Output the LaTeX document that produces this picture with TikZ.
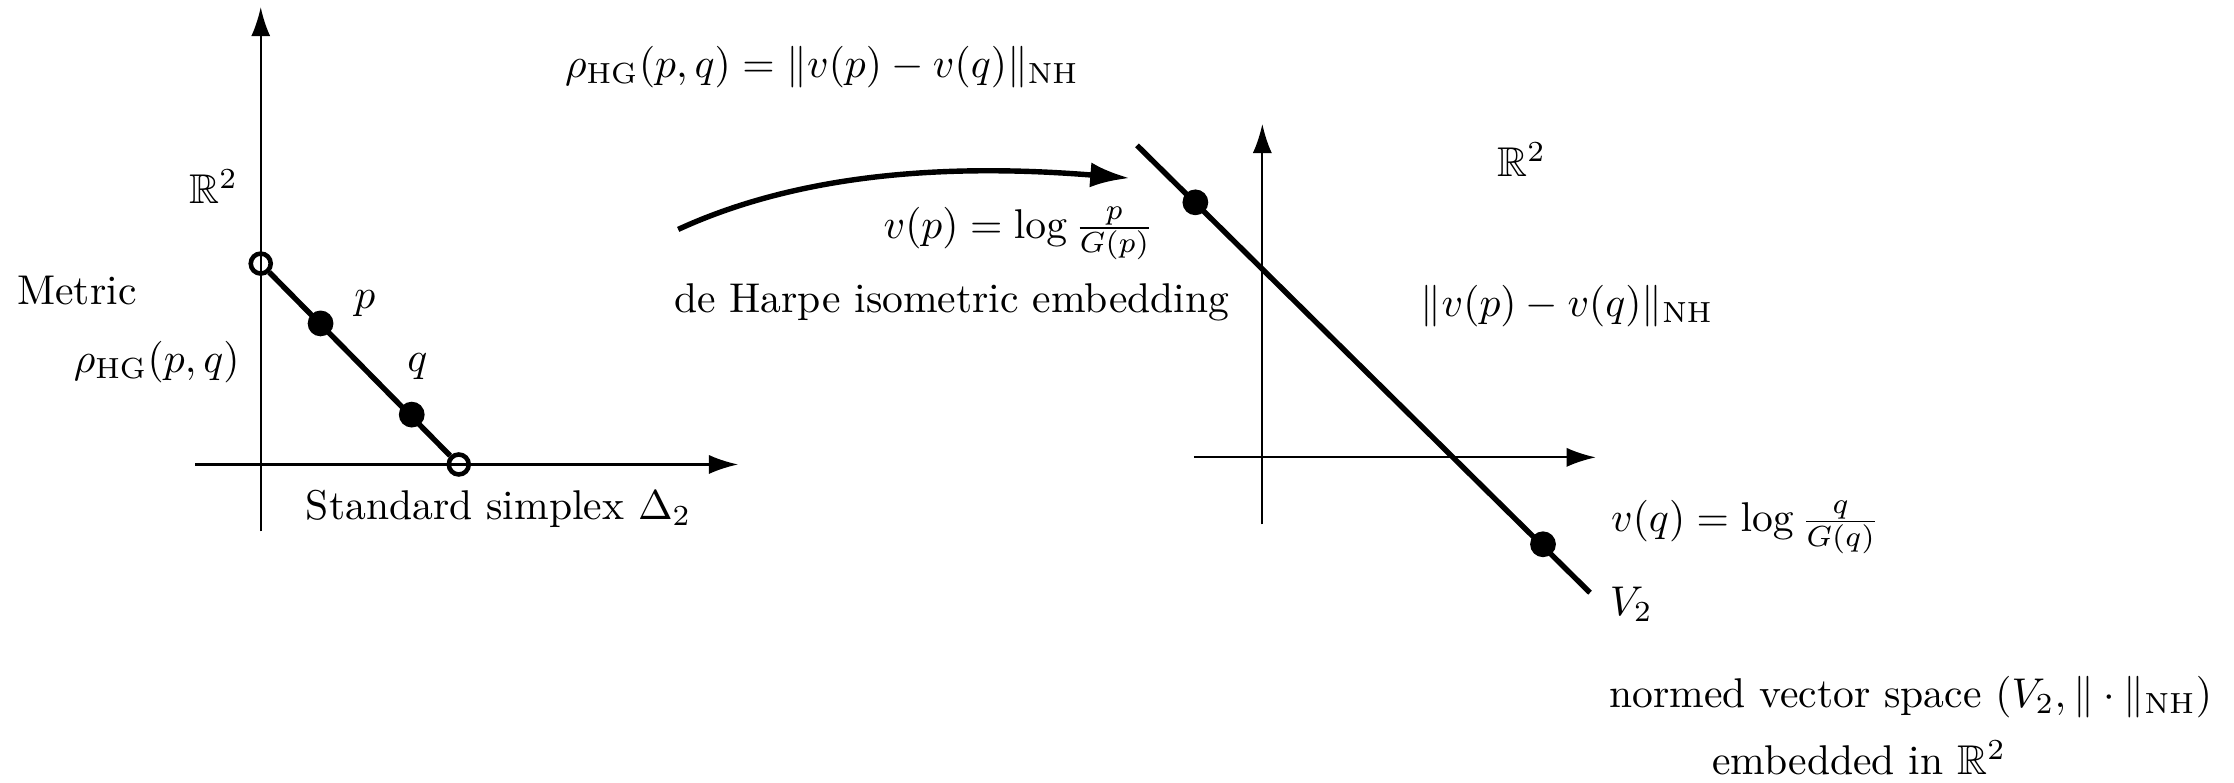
\documentclass[tikz,border=0pt]{standalone}
\usepackage{amsmath,amssymb}
\usetikzlibrary{arrows.meta}
\begin{document}
\begin{tikzpicture}[x=0.3425pt,y=-0.3425pt,
 axis/.style={line width=0.5pt,-{Latex[length=7pt,width=4.6pt]}},
 seg/.style={line width=1.3pt},
 dot/.style={circle,fill=black,inner sep=0pt,minimum size=6.2pt},
 odot/.style={circle,draw=black,line width=1.1pt,inner sep=0pt,minimum size=4.8pt},
 lbl/.style={inner sep=0pt},
 maparrow/.style={line width=1.3pt,-{Latex[length=9.5pt,width=6pt]}}
]
\useasboundingbox (0,0) rectangle (1568,549);
% ---- left axes
\coordinate (Lxs) at (137,326);
\coordinate (Lxe) at (518,326);
\coordinate (Lys) at (183,373);
\coordinate (Lye) at (183,5);
\draw[axis] (Lxs) -- (Lxe);
\draw[axis] (Lys) -- (Lye);
% ---- simplex
\node[odot] (e1) at (183,185) {};
\node[odot] (e2) at (322,326) {};
\draw[seg] (e1) -- (e2);
\node[dot] (p) at (225,227) {};
\node[dot] (q) at (289,291) {};
% ---- left labels
\node[lbl] (R2L) at (150,131) {$\mathbb{R}^2$};
\node[lbl] (metric) at (54,204) {Metric};
\node[lbl] (rhoL) at (110,254) {$\rho_{\mathrm{HG}}(p,q)$};
\node[lbl] (plbl) at (256,213) {$p$};
\node[lbl] (qlbl) at (293,257) {$q$};
\node[lbl] (simplex) at (350,357) {Standard simplex $\Delta_2$};
% ---- top formula
\node[lbl] (top) at (577,47) {$\rho_{\mathrm{HG}}(p,q)=\|v(p)-v(q)\|_{\mathrm{NH}}$};
% ---- map arrow
\coordinate (ms) at (476,161);
\coordinate (me) at (793,125);
\draw[maparrow] (ms) .. controls (576,115) and (693,117) .. (me);
\node[lbl] (vp) at (715,164) {$v(p)=\log\frac{p}{G(p)}$};
\node[lbl] (harpe) at (668,212) {de Harpe isometric embedding};
% ---- right axes
\coordinate (Rxs) at (838,321);
\coordinate (Rxe) at (1120,321);
\coordinate (Rys) at (886,368);
\coordinate (Rye) at (886,87);
\draw[axis] (Rxs) -- (Rxe);
\draw[axis] (Rys) -- (Rye);
% ---- V2 line
\coordinate (Vs) at (798,102);
\coordinate (Ve) at (1116,416);
\draw[seg] (Vs) -- (Ve);
\node[dot] (vpdot) at (839,142) {};
\node[dot] (vqdot) at (1083,382) {};
% ---- right labels
\node[lbl] (R2R) at (1068,112) {$\mathbb{R}^2$};
\node[lbl] (norm) at (1100,215) {$\|v(p)-v(q)\|_{\mathrm{NH}}$};
\node[lbl] (vq) at (1225,370) {$v(q)=\log\frac{q}{G(q)}$};
\node[lbl] (V2) at (1145,424) {$V_2$};
\node[lbl] (nvs) at (1341,489) {normed vector space $(V_2,\|\cdot\|_{\mathrm{NH}})$};
\node[lbl] (emb) at (1305,532) {embedded in $\mathbb{R}^2$};
\end{tikzpicture}
\end{document}
